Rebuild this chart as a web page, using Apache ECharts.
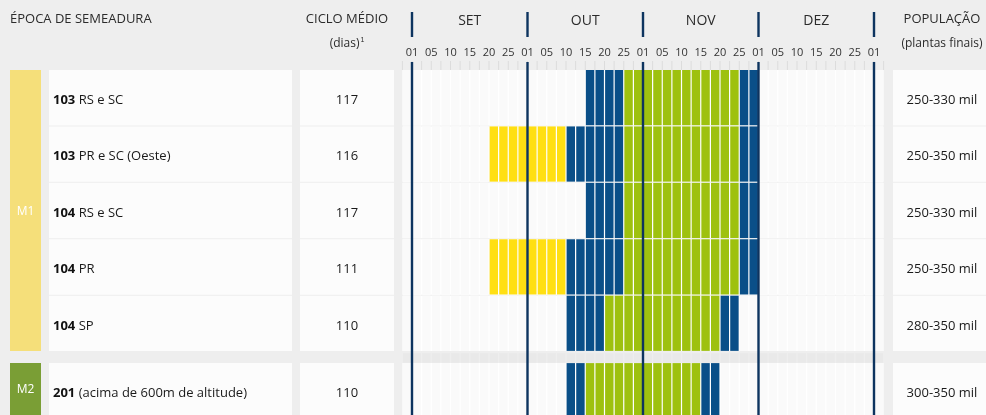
<!DOCTYPE html>
<html><head><meta charset="utf-8">
<script src="https://cdn.jsdelivr.net/npm/echarts@6/dist/echarts.min.js"></script>
<style>html,body{margin:0;padding:0;background:#eeeeee}#c{width:986px;height:415px}</style>
</head><body><div id="c"></div>
<script>
// ---------------- data ----------------
const months = ['SET', 'OUT', 'NOV', 'DEZ'];
const tickLabels = ['01','05','10','15','20','25','01','05','10','15','20','25','01','05','10','15','20','25','01','05','10','15','20','25','01'];
const groupNames = ['M1', 'M2'];
const cultivarNumbers = ['103', '103', '104', '104', '104', '201'];
const cultivarRegions = ['RS e SC', 'PR e SC (Oeste)', 'RS e SC', 'PR', 'SP', '(acima de 600m de altitude)'];
const rowGroup = [0, 0, 0, 0, 0, 1];
const cycleDays = [117, 116, 117, 111, 110, 110];
const population = ['250-330 mil', '250-350 mil', '250-330 mil', '250-350 mil', '280-350 mil', '300-350 mil'];
// sowing windows, as column ranges [first, last]; 12 columns per month, column 0 = 01 SET
const yellowPeriod    = [null, [8, 15], null, [8, 15], null, null];
const blueEarlyPeriod = [[18, 21], [16, 21], [18, 21], [16, 21], [16, 19], [16, 17]];
const greenPeriod     = [[22, 33], [22, 33], [22, 33], [22, 33], [20, 31], [18, 29]];
const blueLatePeriod  = [[34, 35], [34, 35], [34, 35], [34, 35], [32, 33], [30, 31]];

// ---------------- layout helpers ----------------
const GROUP_GAP = 0.195;
const COLORS = { yellow: '#ffdf12', blue: '#0a4f88', green: '#9ec10f' };
const FONT = 'Open Sans';

const rowPos = rowGroup.map((g, i) => i + g * GROUP_GAP);
const nCols = months.length * 12;

const bgCells = [];
rowPos.forEach(p => { for (let c = -1; c <= nCols; c++) bgCells.push([c, p]); });
const gapPos = 5;
const gapCells = [];
for (let c = -1; c <= nCols; c++) gapCells.push([c, gapPos]);

const cells = [];
function addRange(ranges, key) {
  ranges.forEach((r, i) => {
    if (!r) return;
    for (let c = r[0]; c <= r[1]; c++) cells.push([c, rowPos[i], key]);
  });
}
addRange(yellowPeriod, 'yellow');
addRange(blueEarlyPeriod, 'blue');
addRange(greenPeriod, 'green');
addRange(blueLatePeriod, 'blue');

const groupBlocks = groupNames.map((n, g) => {
  const idx = rowGroup.map((x, i) => x === g ? i : -1).filter(i => i >= 0);
  return [g, rowPos[idx[0]], rowPos[idx[idx.length - 1]] + 1];
});

const boundaries = [];
for (let c = -1; c <= nCols + 1; c++) boundaries.push(c);
const monthBoundaries = months.map((_, k) => k * 12).concat([nCols]);

const chart = echarts.init(document.getElementById('c'), null, { renderer: 'canvas' });

function cellRect(api, col, pos, h) {
  const a = api.coord([col, pos]);
  const b = api.coord([col + 1, pos + h]);
  return { x: a[0] + 0.6, y: a[1], width: b[0] - a[0] - 1.2, height: b[1] - a[1] - 1.2 };
}

chart.setOption({
  backgroundColor: '#eeeeee',
  animation: false,
  textStyle: { fontFamily: FONT },
  grid: { left: 402.375, right: 102.375, top: 70, bottom: 0 },
  xAxis: [
    {
      type: 'value', min: -1, max: nCols + 1, position: 'top',
      axisLine: { show: false }, axisTick: { show: false }, splitLine: { show: false },
      axisLabel: {
        customValues: tickLabels.map((_, k) => k * 2),
        formatter: v => tickLabels[Math.round(v / 2)],
        margin: 12, fontSize: 11, color: '#333', fontFamily: FONT
      }
    },
    {
      type: 'value', min: -1, max: nCols + 1, position: 'top',
      axisLine: { show: false }, axisTick: { show: false }, splitLine: { show: false },
      axisLabel: {
        customValues: months.map((_, k) => k * 12 + 6),
        formatter: v => months[Math.round((v - 6) / 12)],
        margin: 42, fontSize: 14, color: '#2b2b2b', fontFamily: FONT
      }
    }
  ],
  yAxis: { type: 'value', inverse: true, min: 0, max: 6.115, show: false },
  graphic: [
    { type: 'text', x: 10, y: 19, style: { text: 'ÉPOCA DE SEMEADURA', fontSize: 13, fill: '#2b2b2b', fontFamily: FONT, verticalAlign: 'middle' } },
    { type: 'text', x: 347, y: 19, style: { text: 'CICLO MÉDIO', fontSize: 13, fill: '#2b2b2b', fontFamily: FONT, align: 'center', verticalAlign: 'middle' } },
    { type: 'text', x: 347, y: 44, style: { text: '(dias){s|1}', fontSize: 12, fill: '#2b2b2b', fontFamily: FONT, align: 'center', verticalAlign: 'middle',
        rich: { s: { fontSize: 7, verticalAlign: 'top', padding: [0, 0, 8, 1], fill: '#2b2b2b' } } } },
    { type: 'text', x: 942, y: 19, style: { text: 'POPULAÇÃO', fontSize: 13, fill: '#2b2b2b', fontFamily: FONT, align: 'center', verticalAlign: 'middle' } },
    { type: 'text', x: 942, y: 44, style: { text: '(plantas finais)', fontSize: 12, fill: '#2b2b2b', fontFamily: FONT, align: 'center', verticalAlign: 'middle' } }
  ],
  series: [
    { // header tick stubs
      type: 'custom', z: 1, silent: true, clip: false,
      data: boundaries,
      renderItem: (params, api) => {
        const x = api.coord([api.value(0), 0])[0];
        const top = params.coordSys.y;
        return { type: 'line', shape: { x1: x, y1: top - 9, x2: x, y2: top }, style: { stroke: '#dcdcdc', lineWidth: 1 } };
      }
    },
    { // table panels and texts
      type: 'custom', z: 1, silent: true, clip: false,
      data: rowPos.map((p, i) => [i, p]),
      renderItem: (params, api) => {
        const i = api.value(0);
        const p = api.value(1);
        const y0 = api.coord([0, p])[1];
        const y1 = api.coord([0, p + 1])[1];
        const h = y1 - y0 - 1;
        const cy = y0 + (y1 - y0) / 2 + 2;
        return {
          type: 'group', children: [
            { type: 'rect', shape: { x: 49, y: y0, width: 243, height: h }, style: { fill: '#fcfcfc' } },
            { type: 'rect', shape: { x: 300, y: y0, width: 94, height: h }, style: { fill: '#fcfcfc' } },
            { type: 'rect', shape: { x: 402.4, y: y0, width: 481.2, height: h }, style: { fill: '#ffffff' } },
            { type: 'rect', shape: { x: 893, y: y0, width: 93, height: h }, style: { fill: '#fcfcfc' } },
            { type: 'text', x: 53, y: cy, style: {
                text: '{b|' + cultivarNumbers[i] + '} ' + cultivarRegions[i], fontSize: 13, fill: '#1a1a1a', fontFamily: FONT,
                verticalAlign: 'middle', rich: { b: { fontWeight: 'bold', fontSize: 13, fill: '#111', fontFamily: FONT } } } },
            { type: 'text', x: 347, y: cy, style: { text: String(cycleDays[i]), fontSize: 13, fill: '#1a1a1a', fontFamily: FONT, align: 'center', verticalAlign: 'middle' } },
            { type: 'text', x: 942, y: cy, style: { text: population[i], fontSize: 13, fill: '#1a1a1a', fontFamily: FONT, align: 'center', verticalAlign: 'middle' } }
          ]
        };
      }
    },
    { // group blocks
      type: 'custom', z: 1, silent: true, clip: false,
      data: groupBlocks,
      renderItem: (params, api) => {
        const g = api.value(0);
        const y0 = api.coord([0, api.value(1)])[1];
        const y1 = api.coord([0, api.value(2)])[1];
        return { type: 'group', children: [
          { type: 'rect', shape: { x: 10, y: y0, width: 31, height: y1 - y0 - 1 }, style: { fill: g === 0 ? '#f5df7a' : '#7a9e35' } },
          { type: 'text', x: 25.5, y: (y0 + Math.min(y1, 415)) / 2 + 1, style: { text: groupNames[g], fontSize: 12, fill: '#ffffff', fontFamily: FONT, align: 'center', verticalAlign: 'middle' } }
        ] };
      }
    },
    { // empty background cells
      type: 'custom', z: 2, silent: true,
      data: bgCells,
      renderItem: (params, api) => ({ type: 'rect', shape: cellRect(api, api.value(0), api.value(1), 1), style: { fill: '#fafafa' } })
    },
    { // gap row cells
      type: 'custom', z: 2, silent: true,
      data: gapCells,
      renderItem: (params, api) => {
        const r = cellRect(api, api.value(0), api.value(1), GROUP_GAP);
        return { type: 'rect', shape: { x: r.x, y: r.y + 1, width: r.width, height: r.height }, style: { fill: '#e9e9e9' } };
      }
    },
    { // sowing cells
      type: 'custom', z: 3, silent: true,
      dimensions: ['col', 'row', 'kind'],
      data: cells,
      renderItem: (params, api) => {
        const d = cells[params.dataIndex];
        return { type: 'rect', shape: cellRect(api, d[0], d[1], 1), style: { fill: COLORS[d[2]] } };
      }
    },
    { // month divider lines
      type: 'custom', z: 4, silent: true, clip: false,
      data: monthBoundaries,
      renderItem: (params, api) => {
        const x = api.coord([api.value(0), 0])[0];
        const top = params.coordSys.y;
        const bottom = top + params.coordSys.height;
        return { type: 'group', children: [
          { type: 'line', shape: { x1: x, y1: 12, x2: x, y2: 37 }, style: { stroke: '#0d345f', lineWidth: 2.4 } },
          { type: 'line', shape: { x1: x, y1: top - 8, x2: x, y2: bottom }, style: { stroke: '#0d345f', lineWidth: 2.4 } }
        ] };
      }
    }
  ]
});
</script>
</body></html>
